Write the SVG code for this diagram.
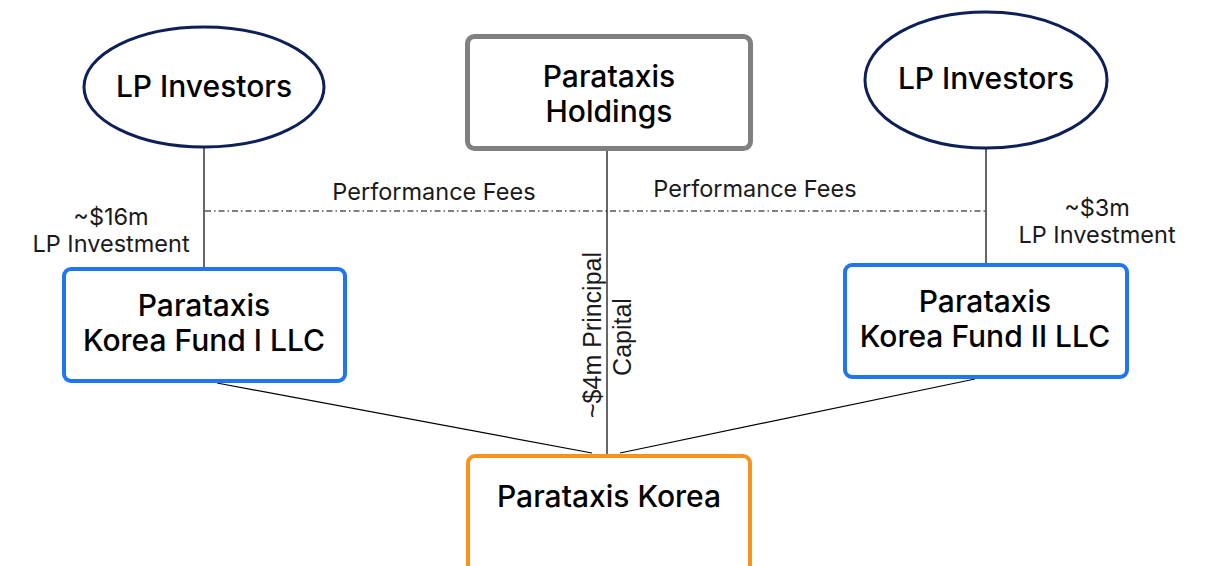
<svg xmlns="http://www.w3.org/2000/svg" width="1205" height="566" viewBox="0 0 1205 566">
<style>
.node{font-family:Inter,"Liberation Sans",sans-serif;font-size:30px;font-weight:500;fill:#000;text-anchor:middle}
.lbl{font-family:Inter,"Liberation Sans",sans-serif;font-size:23.5px;fill:#1a1a1a;text-anchor:middle}
.rot{font-family:"Liberation Sans",Arial,sans-serif;font-size:25px;fill:#1a1a1a;text-anchor:middle}
.ln{stroke:#000;stroke-width:1.2;fill:none}
</style>
<rect width="1205" height="566" fill="#fff"/>
<g id="connectors">
<line class="ln" x1="204" y1="147" x2="204" y2="268"/>
<line class="ln" x1="986" y1="148" x2="986" y2="263"/>
<line class="ln" x1="607" y1="150" x2="607" y2="455"/>
<line class="ln" x1="205" y1="211" x2="986" y2="211" stroke-dasharray="6,3,1.5,3" stroke-width="1"/>
<line class="ln" x1="217" y1="383" x2="592" y2="453"/>
<line class="ln" x1="975" y1="379" x2="620" y2="453"/>
<text class="lbl" x="111" y="225">~$16m</text>
<text class="lbl" x="111" y="252">LP Investment</text>
<text class="lbl" x="434" y="200">Performance Fees</text>
<text class="lbl" x="755" y="197">Performance Fees</text>
<text class="lbl" x="1097" y="216">~$3m</text>
<text class="lbl" x="1097" y="243">LP Investment</text>
<text class="rot" transform="translate(601,335) rotate(-90)">~$4m Principal</text>
<text class="rot" transform="translate(631,337) rotate(-90)">Capital</text>
</g>
<g id="lp-left">
<ellipse cx="204" cy="87" rx="120" ry="60" fill="#fff" stroke="#0c2057" stroke-width="3"/>
<text class="node" x="204" y="97">LP Investors</text>
</g>
<g id="lp-right">
<ellipse cx="986" cy="80" rx="121" ry="68" fill="#fff" stroke="#0c2057" stroke-width="3"/>
<text class="node" x="986" y="89">LP Investors</text>
</g>
<g id="holdings">
<rect x="467.5" y="36.5" width="283" height="112" rx="7" fill="#fff" stroke="#808080" stroke-width="5"/>
<text class="node" x="609" y="87">Parataxis</text>
<text class="node" x="609" y="122">Holdings</text>
</g>
<g id="fund1">
<rect x="64" y="269" width="281" height="112" rx="7" fill="#fff" stroke="#1f75f2" stroke-width="4"/>
<text class="node" x="204" y="316">Parataxis</text>
<text class="node" x="204" y="351">Korea Fund I LLC</text>
</g>
<g id="fund2">
<rect x="845" y="265" width="282" height="112" rx="7" fill="#fff" stroke="#1f75f2" stroke-width="4"/>
<text class="node" x="985" y="312">Parataxis</text>
<text class="node" x="985" y="347">Korea Fund II LLC</text>
</g>
<g id="korea">
<rect x="468" y="456" width="282" height="130" rx="7" fill="#fff" stroke="#f7931e" stroke-width="4"/>
<text class="node" x="609" y="507">Parataxis Korea</text>
</g>
</svg>
